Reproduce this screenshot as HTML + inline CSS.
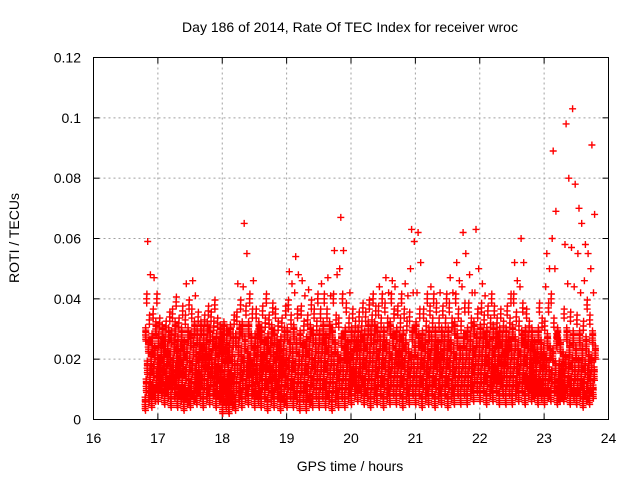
<!DOCTYPE html>
<html><head><meta charset="utf-8"><style>
body{margin:0;background:#fff;}
svg{display:block;font-family:"Liberation Sans",sans-serif;}
</style></head><body>
<svg id="chart" width="640" height="480" viewBox="0 0 640 480">
<rect width="640" height="480" fill="#fff"/>
<text x="350" y="32" font-size="14" text-anchor="middle" fill="#000">Day 186 of 2014, Rate Of TEC Index for receiver wroc</text>
<g id="grid"></g>
<g id="ticks"></g>
<g id="marks"></g>
<rect x="93.5" y="57.5" width="515" height="362" fill="none" stroke="#000" stroke-width="1"/>
<text x="350" y="471" font-size="14" text-anchor="middle">GPS time / hours</text>
<text x="19" y="238" font-size="14" text-anchor="middle" transform="rotate(-90 19 238)">ROTI / TECUs</text>
</svg>
<script>
const xTicks=[16,17,18,19,20,21,22,23,24];
const yTicks=[0,0.02,0.04,0.06,0.08,0.1,0.12];
const yTickLabels=["0","0.02","0.04","0.06","0.08","0.1","0.12"];
const binStarts=[16.8,16.9,17.0,17.1,17.2,17.3,17.4,17.5,17.6,17.7,17.8,17.9,18.0,18.1,18.2,18.3,18.4,18.5,18.6,18.7,18.8,18.9,19.0,19.1,19.2,19.3,19.4,19.5,19.6,19.7,19.8,19.9,20.0,20.1,20.2,20.3,20.4,20.5,20.6,20.7,20.8,20.9,21.0,21.1,21.2,21.3,21.4,21.5,21.6,21.7,21.8,21.9,22.0,22.1,22.2,22.3,22.4,22.5,22.6,22.7,22.8,22.9,23.0,23.1,23.2,23.3,23.4,23.5,23.6,23.7];
const binValues=[
[5,8,11,14,17,20,24,28,33,40,48,59],
[6,8,10,13,16,19,22,26,30,35,40,47],
[8,10,12,14,17,20,23,26,29,32,25,18],
[7,9,11,13,16,19,22,25,28,31,34,20],
[6,9,12,15,18,21,24,27,30,35,39,14],
[6,8,10,13,16,19,22,25,28,32,36,17],
[5,7,9,12,15,18,21,24,28,33,38,45],
[6,8,11,14,17,20,23,26,30,35,41,46],
[7,9,12,15,18,21,24,27,30,34,22,13],
[6,9,12,15,18,21,24,27,30,33,36,19],
[7,10,13,16,19,22,25,28,31,34,38,16],
[6,8,11,14,17,20,23,26,29,32,25,15],
[4,6,9,12,15,18,21,24,27,30,20,11],
[4,6,8,11,14,17,20,23,26,29,33,13],
[5,8,11,14,17,20,23,26,29,34,38,45],
[6,9,12,15,18,21,25,30,36,44,55,65],
[7,10,13,16,19,22,26,30,35,40,46,17],
[6,8,11,14,17,20,23,26,30,35,28,14],
[6,9,12,15,18,21,24,28,32,36,40,19],
[5,8,11,14,17,20,23,26,29,33,37,15],
[6,9,12,15,18,21,24,27,31,35,22,12],
[5,7,10,13,16,19,22,25,28,32,36,17],
[6,9,12,15,18,21,24,28,33,38,45,49],
[6,8,11,14,17,20,24,29,35,42,48,54],
[5,8,11,14,17,20,23,27,31,36,41,46],
[5,7,10,13,16,19,22,25,29,33,38,43],
[6,9,12,15,18,21,24,27,31,35,40,18],
[6,9,12,15,18,21,24,27,30,35,40,45],
[6,8,11,14,17,20,23,26,30,35,41,47],
[5,8,11,14,17,20,24,28,33,40,48,56],
[6,9,12,15,18,22,26,32,40,50,56,67],
[6,9,12,15,18,21,24,28,32,37,42,20],
[7,10,13,16,19,22,25,28,31,35,24,14],
[8,10,13,16,19,22,25,28,31,34,37,16],
[7,9,12,15,18,21,24,27,30,34,38,18],
[6,9,12,15,18,21,24,27,30,33,36,40],
[7,10,13,16,19,22,25,28,32,36,40,44],
[6,9,12,15,18,21,24,28,32,37,42,47],
[7,10,13,16,19,22,26,30,35,40,44,46],
[7,10,13,16,19,22,25,28,32,36,40,20],
[6,9,12,15,18,21,24,27,31,35,41,45],
[7,10,13,16,19,23,28,34,42,50,59,63],
[7,10,13,16,19,22,26,30,35,42,52,62],
[6,9,12,15,18,21,24,27,31,35,40,18],
[7,10,13,16,19,22,25,28,32,36,40,44],
[6,9,12,15,18,21,24,28,32,37,42,20],
[7,10,13,16,19,22,25,28,32,36,40,22],
[6,9,12,15,18,21,24,28,32,37,42,47],
[7,10,13,16,19,22,26,30,35,40,46,52],
[7,10,13,16,19,22,26,31,37,44,55,62],
[7,10,13,16,19,22,25,28,32,37,42,48],
[8,11,14,17,20,23,26,30,35,42,50,63],
[8,11,14,17,20,23,26,29,33,37,41,45],
[7,10,13,16,19,22,25,28,32,36,40,19],
[8,11,14,17,20,23,26,29,32,36,25,15],
[7,10,13,16,19,22,25,28,31,35,20,13],
[7,10,13,16,19,22,25,28,32,36,40,24],
[7,10,13,16,19,22,25,29,34,40,46,52],
[8,11,14,17,20,23,27,31,37,44,52,60],
[7,10,13,16,19,22,25,28,31,35,22,12],
[8,10,12,15,18,21,24,28,20,14,11,9],
[7,9,12,15,18,21,24,28,32,37,19,11],
[7,9,12,15,18,22,26,31,37,44,50,55],
[8,11,14,17,21,26,32,40,50,60,69,89],
[7,9,11,14,17,20,24,28,16,12,9,8],
[8,10,13,16,19,23,28,35,45,58,80,98],
[7,9,12,15,18,22,27,34,44,57,78,103],
[7,9,12,15,18,22,27,33,42,55,65,70],
[6,8,11,14,17,20,25,31,38,46,55,58],
[7,9,12,15,18,22,27,33,42,50,68,91]
];
const NS="http://www.w3.org/2000/svg";
const X0=93.5,X1=608.5,Y0=419.5,Y1=57.5;
const xs=t=>X0+(t-16)/8*(X1-X0);
const ys=v=>Y0-v/0.12*(Y0-Y1);
function mk(tag,attrs,parent){const e=document.createElementNS(NS,tag);for(const k in attrs)e.setAttribute(k,attrs[k]);parent.appendChild(e);return e;}
const grid=document.getElementById('grid'),ticks=document.getElementById('ticks'),marks=document.getElementById('marks');
xTicks.forEach((t,i)=>{
  const x=xs(t);
  if(i>0&&i<xTicks.length-1){
    const l=mk('line',{x1:x,x2:x,y1:Y0,y2:Y1,stroke:'#a0a0a0','stroke-dasharray':'2,3'},grid);
    
    
  }
  mk('line',{x1:x,x2:x,y1:Y0,y2:Y0-6,stroke:'#000'},ticks);
  mk('line',{x1:x,x2:x,y1:Y1,y2:Y1+6,stroke:'#000'},ticks);
  const tx=mk('text',{x:x,y:443,'font-size':14,'text-anchor':'middle'},ticks);
  tx.textContent=String(t);
  
  
});
yTicks.forEach((v,i)=>{
  const y=ys(v);
  if(i>0&&i<yTicks.length-1){
    const l=mk('line',{x1:X0,x2:X1,y1:y,y2:y,stroke:'#a0a0a0','stroke-dasharray':'2,3'},grid);
    
    
  }
  mk('line',{x1:X0,x2:X0+6,y1:y,y2:y,stroke:'#000'},ticks);
  mk('line',{x1:X1,x2:X1-6,y1:y,y2:y,stroke:'#000'},ticks);
  const tx=mk('text',{x:81,y:y+5,'font-size':14,'text-anchor':'end'},ticks);
  tx.textContent=yTickLabels[i];
  
  
});
const subX=[0,0.5,0.25,0.75,0.12,0.62,0.37,0.87];
const subY=[0,1.6,-1.4,0.8,2.4,-0.7,1.1,-2.0];
let d='';
binStarts.forEach((t0,b)=>{
  const vals=binValues[b];
  const n=vals.length;
  vals.forEach((v,j)=>{
    const reps=v<=30?8:(v<=40?3:1);
    for(let k=0;k<reps;k++){
      const x=xs(t0+((j*7)%n+subX[k])*0.1/n);
      const y=ys((v+subY[k])/1000);
      d+=`M${(x-3.5).toFixed(1)} ${y.toFixed(1)}h7M${x.toFixed(1)} ${(y-3.5).toFixed(1)}v7`;
    }
  });
});
const p=mk('path',{d:d,stroke:'#ff0000','stroke-width':1.4,fill:'none'},marks);


</script>
</body></html>
